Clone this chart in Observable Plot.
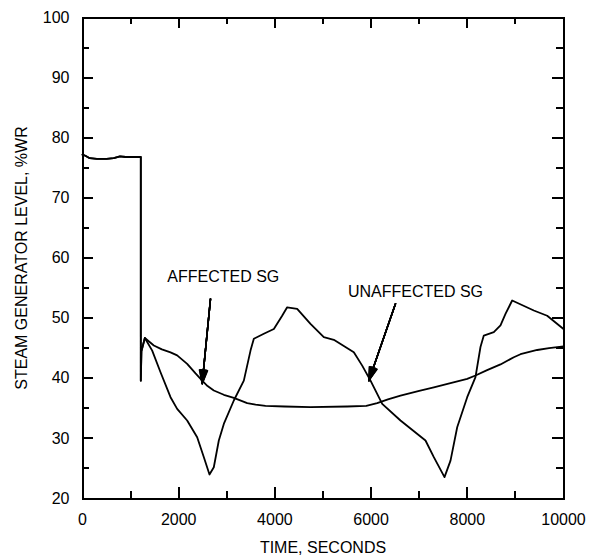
<!DOCTYPE html>
<html>
<head>
<meta charset="utf-8">
<script src="https://cdn.jsdelivr.net/npm/d3@7"></script>
<script src="https://cdn.jsdelivr.net/npm/@observablehq/plot@0.6"></script>
<style>
  html, body { margin: 0; padding: 0; background: white; }
</style>
</head>
<body>
<div id="chart"></div>
<script>
// Time (s) and level (%WR) of the affected steam generator
const affectedT = [0, 60, 150, 300, 500, 650, 780, 900, 1212, 1212, 1225, 1296, 1483, 1650, 1830, 1968, 2176, 2350, 2488, 2600, 2730, 2938, 3146, 3424, 3600, 3805, 4200, 4740, 5500, 5900, 6126, 6350, 6611, 7000, 7304, 7650, 7998, 8170, 8400, 8690, 8967, 9106, 9453, 9700, 10000];
const affectedL = [77.2, 77.0, 76.6, 76.5, 76.5, 76.6, 76.9, 76.8, 76.8, 39.6, 44.5, 46.7, 45.45, 44.8, 44.3, 43.8, 42.4, 40.8, 39.6, 38.7, 37.96, 37.25, 36.75, 35.85, 35.6, 35.4, 35.3, 35.2, 35.3, 35.4, 35.85, 36.5, 37.1, 37.9, 38.5, 39.2, 39.9, 40.46, 41.3, 42.3, 43.5, 44.0, 44.7, 45.0, 45.3];

// Time (s) and level (%WR) of the unaffected steam generator
const unaffectedT = [0, 60, 150, 300, 500, 650, 780, 900, 1212, 1212, 1225, 1296, 1449, 1622, 1830, 1968, 2176, 2384, 2523, 2640, 2730, 2834, 2938, 3146, 3354, 3493, 3562, 3770, 3978, 4151, 4255, 4463, 4740, 5017, 5225, 5641, 5815, 5988, 6231, 6611, 7131, 7304, 7526, 7651, 7790, 7998, 8170, 8274, 8343, 8551, 8690, 8794, 8933, 9383, 9661, 10000];
const unaffectedL = [77.2, 77.0, 76.6, 76.5, 76.5, 76.6, 76.9, 76.8, 76.8, 39.6, 44.5, 46.7, 44.6, 41.0, 36.85, 34.9, 32.97, 30.2, 26.87, 23.99, 25.2, 29.65, 32.4, 36.3, 39.6, 44.6, 46.56, 47.4, 48.2, 50.4, 51.8, 51.55, 49.05, 46.83, 46.4, 44.33, 42.1, 39.6, 35.75, 32.97, 29.65, 26.87, 23.55, 26.3, 31.85, 36.85, 40.2, 45.2, 47.1, 47.66, 48.8, 50.7, 52.93, 51.27, 50.4, 48.2];

// Tick values
const xMajor = [0, 2000, 4000, 6000, 8000, 10000];
const xMinor = [1000, 3000, 5000, 7000, 9000];
const yMajor = [20, 30, 40, 50, 60, 70, 80, 90, 100];
const yMinor = [25, 35, 45, 55, 65, 75, 85, 95];
const xDomain = [0, 10000];
const yDomain = [20, 100];

// Annotations: label text, label position, arrow start and arrow tip
const annLabels = ["AFFECTED SG", "UNAFFECTED SG"];
const annLabelX = [2926, 6923];
const annLabelY = [56.8, 54.4];
const annFromX = [2661, 6507];
const annFromY = [53.2, 52.4];
const annToX = [2488, 5952];
const annToY = [39.1, 39.6];

const xTitle = "TIME, SECONDS";
const yTitle = "STEAM GENERATOR LEVEL, %WR";

const affected = affectedT.map((t, i) => ({t, v: affectedL[i]}));
const unaffected = unaffectedT.map((t, i) => ({t, v: unaffectedL[i]}));
const ann = annLabels.map((label, i) => ({
  label, lx: annLabelX[i], ly: annLabelY[i],
  x1: annFromX[i], y1: annFromY[i], x2: annToX[i], y2: annToY[i]
}));

const W = 596, H = 558, mT = 17, mB = 60, mL = 82, mR = 33;
const innerH = H - mT - mB;
const innerW = W - mL - mR;
const majorLen = 11, minorLen = 7;
const tickStyle = {stroke: "black", strokeWidth: 2, shapeRendering: "crispEdges"};
const fmt = d => String(d);

// inward ticks on all four sides
const tickRules = [
  Plot.ruleX(xMajor, {x: d => d, insetTop: innerH - majorLen, ...tickStyle}),
  Plot.ruleX(xMinor, {x: d => d, insetTop: innerH - minorLen, ...tickStyle}),
  Plot.ruleX(xMajor, {x: d => d, insetBottom: innerH - majorLen, ...tickStyle}),
  Plot.ruleX(xMinor, {x: d => d, insetBottom: innerH - minorLen, ...tickStyle}),
  Plot.ruleY(yMajor, {y: d => d, insetRight: innerW - majorLen, ...tickStyle}),
  Plot.ruleY(yMinor, {y: d => d, insetRight: innerW - minorLen, ...tickStyle}),
  Plot.ruleY(yMajor, {y: d => d, insetLeft: innerW - majorLen, ...tickStyle}),
  Plot.ruleY(yMinor, {y: d => d, insetLeft: innerW - minorLen, ...tickStyle})
];

const arrowMarks = [6, 12, 18, 24, 30, 34].map(a =>
  Plot.arrow(ann, {x1: "x1", y1: "y1", x2: "x2", y2: "y2", stroke: "black", strokeWidth: 1.5, headLength: 14, headAngle: a})
);

const chart = Plot.plot({
  width: W,
  height: H,
  marginTop: mT,
  marginBottom: mB,
  marginLeft: mL,
  marginRight: mR,
  style: {fontFamily: "'Liberation Sans', Arial, Helvetica, sans-serif", fontSize: "16px", color: "black", background: "white"},
  x: {domain: xDomain, ticks: xMajor, tickSize: 0, tickPadding: 15, tickFormat: fmt, label: null},
  y: {domain: yDomain, ticks: yMajor, tickSize: 0, tickPadding: 13, tickFormat: fmt, label: null},
  marks: [
    Plot.line(affected, {x: "t", y: "v", stroke: "black", strokeWidth: 1.8}),
    Plot.line(unaffected, {x: "t", y: "v", stroke: "black", strokeWidth: 1.8}),
    ...arrowMarks,
    Plot.text(ann, {x: "lx", y: "ly", text: "label", fill: "black", fontSize: 16}),
    Plot.text([xTitle], {frameAnchor: "bottom", dy: 49, lineAnchor: "middle", textAnchor: "middle", fill: "black", fontSize: 16}),
    Plot.text([yTitle], {frameAnchor: "left", dx: -61, rotate: -90, lineAnchor: "middle", textAnchor: "middle", fill: "black", fontSize: 16}),
    ...tickRules,
    Plot.frame({stroke: "black", strokeWidth: 2, shapeRendering: "crispEdges"})
  ]
});
document.getElementById("chart").appendChild(chart);
</script>
</body>
</html>
